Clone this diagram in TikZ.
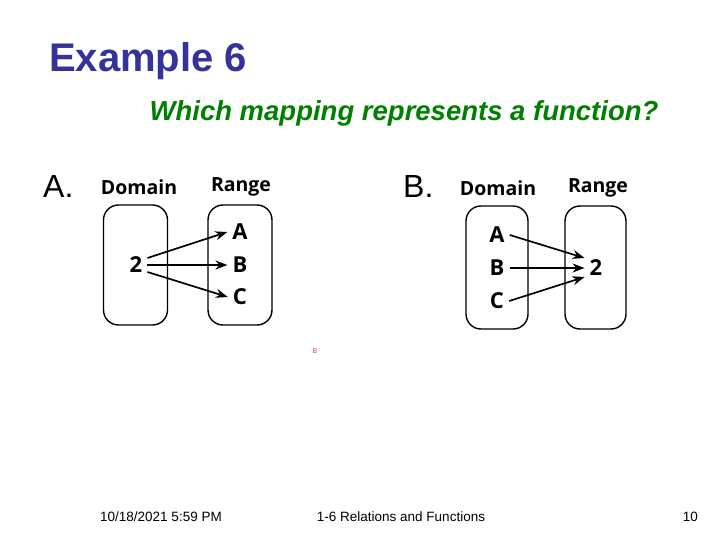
\documentclass[tikz,border=0pt]{standalone}
\usepackage{fontspec}
\setmainfont{Liberation Sans}
\newfontfamily\mapfont{Open Sans}
\usetikzlibrary{arrows.meta}
\definecolor{titleblue}{RGB}{51,51,153}
\definecolor{subgreen}{RGB}{0,128,0}
\definecolor{tagpink}{RGB}{204,51,153}
\begin{document}
\begin{tikzpicture}[x=1pt,y=-1pt,
    setbox/.style={draw,line width=1.4pt,rounded corners=15pt,minimum width=64pt,minimum height=120pt,inner sep=0pt},
    head/.style={font=\mapfont\bfseries\fontsize{19.5}{22}\selectfont},
    elem/.style={font=\mapfont\bfseries\fontsize{22}{26}\selectfont,inner sep=5pt},
    map/.style={line width=1.7pt,-{Stealth[length=12pt,width=9pt]}},
    foot/.style={font=\fontsize{13.5}{16}\selectfont}]
    \useasboundingbox (0,0) rectangle (720,540);
    \node[anchor=base west,text=titleblue,font=\bfseries\fontsize{40}{46}\selectfont,inner sep=0pt] (title) at (49,72) {Example 6};
    \node[anchor=base,text=subgreen,font=\bfseries\itshape\fontsize{27.5}{32}\selectfont,inner sep=0pt] (question) at (404,121) {Which mapping represents a function?};
    \node[anchor=base west,font=\fontsize{32}{36}\selectfont,inner sep=0pt] (labA) at (43,197) {A.};
    \node[anchor=base west,font=\fontsize{32}{36}\selectfont,inner sep=0pt] (labB) at (403,197) {B.};
    \node[setbox] (domA) at (135.5,265) {};
    \node[setbox] (ranA) at (240,265) {};
    \node[head] (dA) at (139,187) {Domain};
    \node[head] (rA) at (241,187) {Range};
    \node[elem] (a2) at (136,265) {2};
    \node[elem] (aA) at (240,232) {A};
    \node[elem] (aB) at (240,265) {B};
    \node[elem] (aC) at (240,297) {C};
    \draw[map] ([yshift=7pt]a2.east) -- (aA.west);
    \draw[map] (a2.east) -- (aB.west);
    \draw[map] ([yshift=-7pt]a2.east) -- (aC.west);
    \node[setbox,minimum width=62pt,minimum height=123pt] (domB) at (497,267.5) {};
    \node[setbox,minimum width=61pt,minimum height=123pt] (ranB) at (595.5,267.5) {};
    \node[head] (dB) at (498,188) {Domain};
    \node[head] (rB) at (598,188) {Range};
    \node[elem] (bA) at (497,235) {A};
    \node[elem] (bB) at (497,268) {B};
    \node[elem] (bC) at (497,301) {C};
    \node[elem] (b2) at (596,268) {2};
    \draw[map] (bA.east) -- ([yshift=10pt]b2.west);
    \draw[map] (bB.east) -- (b2.west);
    \draw[map] (bC.east) -- ([yshift=-9pt]b2.west);
    \node[text=tagpink,font=\fontsize{7}{8}\selectfont,inner sep=0pt] (tag) at (315,351) {B};
    \node[foot,anchor=base west,inner sep=0pt] (date) at (100,521) {10/18/2021 5:59 PM};
    \node[foot,anchor=base,inner sep=0pt] (topic) at (401,521) {1-6 Relations and Functions};
    \node[foot,anchor=base east,inner sep=0pt] (page) at (698,521) {10};
\end{tikzpicture}
\end{document}
